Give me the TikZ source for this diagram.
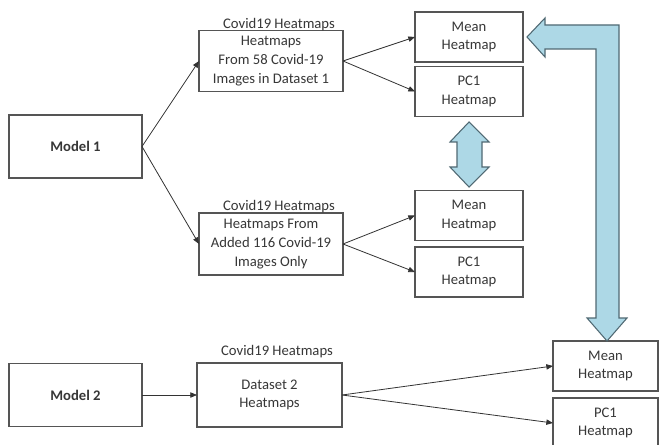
\documentclass[tikz,border=0pt]{standalone}
\usepackage{fontspec}
\setmainfont{Carlito}
\usetikzlibrary{arrows.meta}
\definecolor{boxline}{RGB}{85,85,85}
\definecolor{heattext}{RGB}{55,55,55}
\definecolor{blockfill}{RGB}{173,216,230}
\definecolor{blockline}{RGB}{80,105,115}

\tikzset{
    box/.style={draw=boxline, line width=0.8pt, fill=white, inner sep=0pt, outer sep=0pt,
        align=center, text=heattext, font=\fontsize{11}{14}\selectfont},
    modelbox/.style={box, minimum width=99.75pt, minimum height=47.25pt, font=\fontsize{11}{14}\selectfont\bfseries},
    setbox/.style={box, minimum width=108pt, minimum height=46pt},
    mapbox/.style={box, minimum width=81pt, minimum height=37.5pt},
    setlabel/.style={text=heattext, font=\fontsize{11}{14}\selectfont, inner sep=0pt},
    link/.style={draw=black!80, line width=0.6pt, -{Triangle[length=5pt,width=4pt]}},
    blockarrow/.style={draw=blockline, fill=blockfill, line width=0.8pt, line join=miter}
}

\begin{document}
\begin{tikzpicture}[x=0.75pt, y=-0.75pt]
    \useasboundingbox[fill=white] (0,0) rectangle (659,445);

    % Models
    \node[modelbox] (model1) at (75.5,146.5) {Model 1};
    \node[modelbox] (model2) at (75.5,395) {Model 2};

    % Heatmap sets
    \node[setbox] (setA) at (271,61) {Heatmaps\\From 58 Covid-19\\Images in Dataset 1};
    \node[setbox, minimum height=46.5pt] (setB) at (271,244) {Heatmaps From\\Added 116 Covid-19\\Images Only};
    \node[setbox, minimum width=108.75pt, minimum height=48pt] (setD) at (269.5,395) {Dataset 2\\Heatmaps};
    \node[setlabel] (labA) at (279,25) {Covid19 Heatmaps};
    \node[setlabel] (labB) at (279,207) {Covid19 Heatmaps};
    \node[setlabel] (labD) at (277,352) {Covid19 Heatmaps};

    % Mean and PC1 heatmaps
    \node[mapbox] (mean1) at (469,37) {Mean\\Heatmap};
    \node[mapbox] (pc1a) at (469,91.5) {PC1\\Heatmap};
    \node[mapbox] (mean2) at (469,215.5) {Mean\\Heatmap};
    \node[mapbox] (pc1b) at (469,272) {PC1\\Heatmap};
    \node[mapbox, minimum width=78.75pt] (mean3) at (605.5,366) {Mean\\Heatmap};
    \node[mapbox, minimum width=78.75pt] (pc1c) at (605.5,423) {PC1\\Heatmap};

    % Connections
    \draw[link] (model1.east) -- (setA.west);
    \draw[link] (model1.east) -- (setB.west);
    \draw[link] (model2.east) -- (setD.west);
    \draw[link] (setA.east) -- (mean1.west);
    \draw[link] (setA.east) -- (pc1a.west);
    \draw[link] (setB.east) -- (mean2.west);
    \draw[link] (setB.east) -- (pc1b.west);
    \draw[link] (setD.east) -- (mean3.west);
    \draw[link] (setD.east) -- (pc1c.west);

    % Block arrows
    \draw[blockarrow] (469,122) -- (489,142) -- (482,142) -- (482,167) -- (489,167)
        -- (469,187) -- (450,167) -- (457,167) -- (457,142) -- (450,142) -- cycle;
    \draw[blockarrow] (527,37) -- (545,18) -- (545,25) -- (619,25) -- (619,318)
        -- (627,318) -- (607,341) -- (587,318) -- (596,318) -- (596,49)
        -- (545,49) -- (545,57) -- cycle;
\end{tikzpicture}
\end{document}
